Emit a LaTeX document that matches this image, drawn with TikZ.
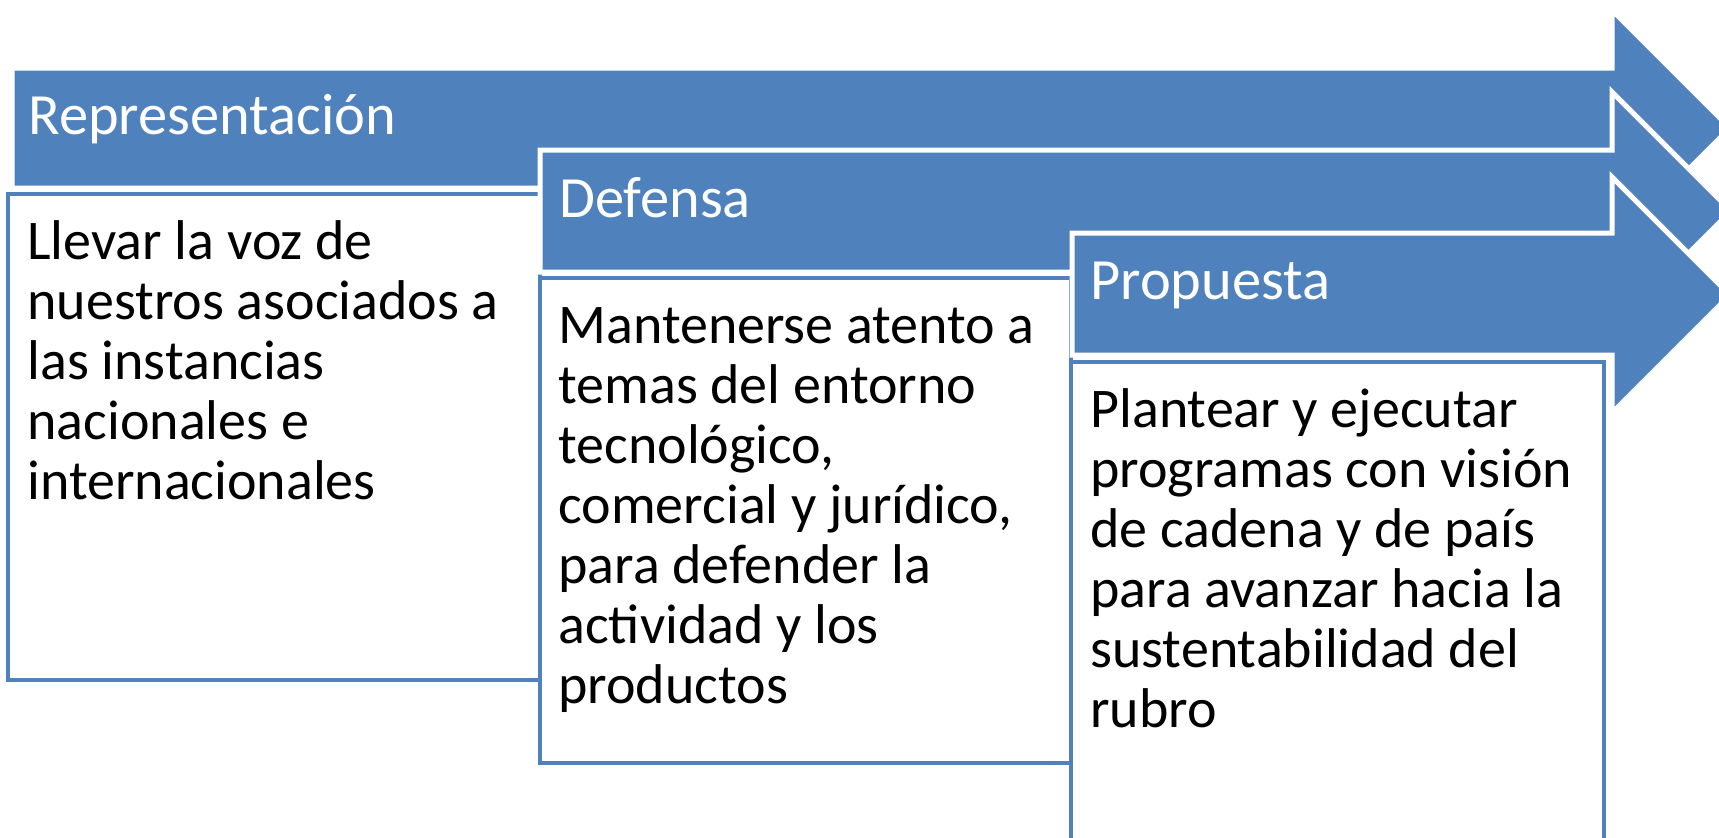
\documentclass[tikz,border=0pt]{standalone}
\usepackage{fontspec}
\setmainfont{Carlito}
\usepackage{tikz}

\definecolor{accent}{HTML}{4F81BD}

\begin{document}
\begin{tikzpicture}[x=0.5pt, y=-0.5pt,
  arrowbar/.style={fill=accent, draw=white, line width=2.5pt, line join=miter},
  txtbox/.style={fill=white, draw=accent, line width=2.25pt},
  headtxt/.style={anchor=base west, inner sep=0pt, text=white, font=\fontsize{29.2}{30}\selectfont},
  bodytxt/.style={anchor=north west, inner sep=0pt, align=left, font=\fontsize{28}{30}\selectfont}]
  \useasboundingbox (0, 0) rectangle (1719, 837);
  \clip (0, 0) rectangle (1719, 837);

% Representacion
\draw [arrowbar] (12,68) -- (1612,68) -- (1612,10) -- (1730,128)
  -- (1612,246) -- (1612,188) -- (12,188) -- cycle;
\draw [txtbox] (8,194) rectangle (540,680);
\node [headtxt] (rep) at (28,134) {Representación};
\node [bodytxt] (repText) at (27,217) {\strut Llevar la voz de\\
  nuestros asociados a\\ las instancias\\ nacionales e\\ internacionales};

% Defensa
\draw [arrowbar] (540,150) -- (1612,150) -- (1612,92) -- (1731,211)
  -- (1612,330) -- (1612,272) -- (540,272) -- cycle;
\draw [txtbox] (540,278) rectangle (1071,763);
\node [headtxt] (def) at (559,217) {Defensa};
\node [bodytxt] (defText) at (558,301) {\strut Mantenerse atento a\\
  temas del entorno\\ tecnológico,\\ comercial y jurídico,\\
  para defender la\\ actividad y los\\ productos};

% Propuesta
\draw [arrowbar] (1072,233) -- (1612,233) -- (1612,177) -- (1730,295)
  -- (1612,413) -- (1612,355) -- (1072,355) -- cycle;
\draw [txtbox] (1071,362) rectangle (1604,900);
\node [headtxt] (prop) at (1090,299) {Propuesta};
\node [bodytxt] (propText) at (1090,385) {\strut Plantear y ejecutar\\
  programas con visión\\ de cadena y de país\\ para avanzar hacia la\\
  sustentabilidad del\\ rubro};

\end{tikzpicture}
\end{document}
